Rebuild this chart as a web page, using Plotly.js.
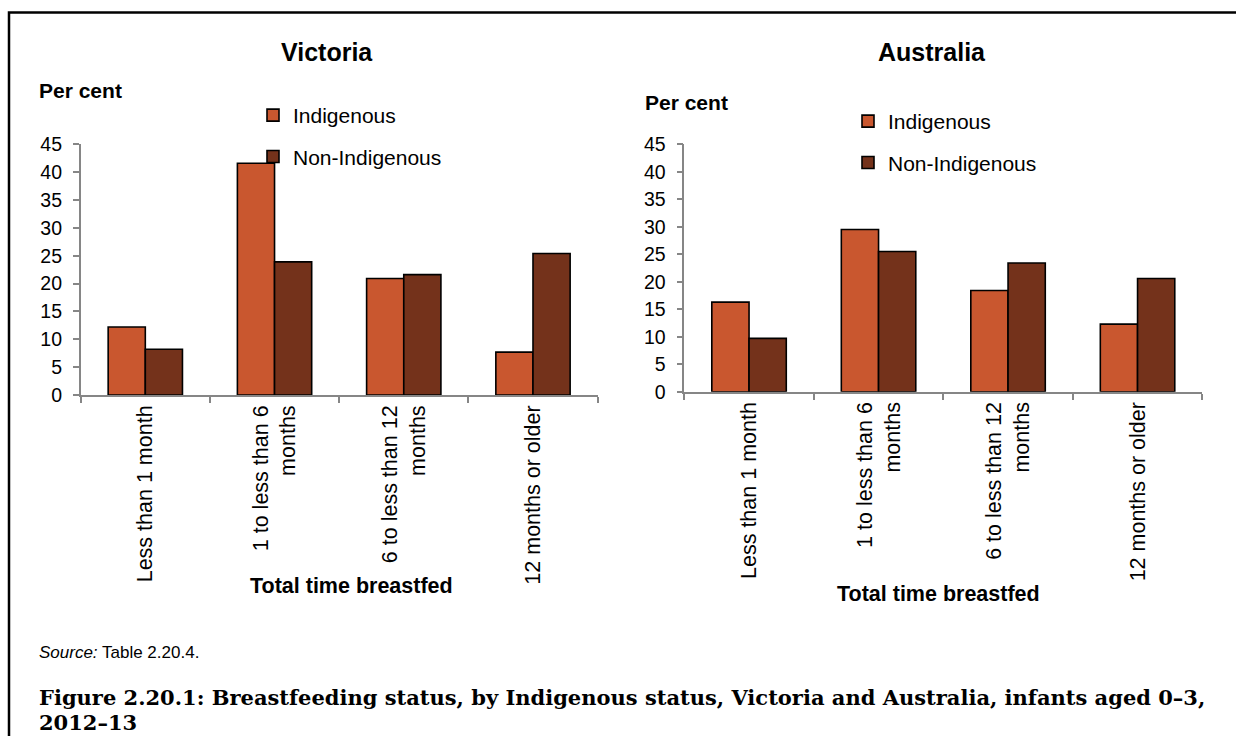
<!DOCTYPE html>
<html>
<head>
<meta charset="utf-8">
<script src="https://cdn.plot.ly/plotly-3.0.1.min.js"></script>
<style>
  html, body { margin: 0; padding: 0; background: #ffffff; }
  #chart { width: 1236px; height: 736px; }
</style>
</head>
<body>
<div id="chart"></div>
<script>
// ---- Data ----
const categories = [
  "Less than 1 month",
  "1 to less than 6<br>months",
  "6 to less than 12<br>months",
  "12 months or older"
];
const seriesNames = ["Indigenous", "Non-Indigenous"];
const victoriaIndigenous = [12.2, 41.6, 20.9, 7.7];
const victoriaNonIndigenous = [8.2, 23.9, 21.6, 25.4];
const australiaIndigenous = [16.3, 29.5, 18.4, 12.3];
const australiaNonIndigenous = [9.7, 25.5, 23.4, 20.6];
const panelTitles = ["Victoria", "Australia"];
const yTitle = "Per cent";
const xTitle = "Total time breastfed";
const sourceText = "<i>Source:</i> Table 2.20.4.";
const captionLines = [
  "Figure 2.20.1: Breastfeeding status, by Indigenous status, Victoria and Australia, infants aged 0–3,",
  "2012–13"
];

// ---- Styling ----
const W = 1236, H = 736;
const px = v => v / W;
const py = v => 1 - v / H;
const colInd = "#C9572F";
const colNon = "#74321B";
const axisGrey = "#868686";
const sans = "Liberation Sans, Arial, sans-serif";
const serif = "DejaVu Serif, Liberation Serif, serif";

function bar(name, y, color, xa, ya, legend) {
  return {
    type: "bar", name: name, x: categories, y: y,
    xaxis: xa, yaxis: ya, legend: legend, legendgroup: legend + name,
    marker: { color: color, line: { color: "#000000", width: 1.6 } },
    hoverinfo: "x+y+name"
  };
}

const traces = [
  bar(seriesNames[0], victoriaIndigenous, colInd, "x", "y", "legend"),
  bar(seriesNames[1], victoriaNonIndigenous, colNon, "x", "y", "legend"),
  bar(seriesNames[0], australiaIndigenous, colInd, "x2", "y2", "legend2"),
  bar(seriesNames[1], australiaNonIndigenous, colNon, "x2", "y2", "legend2")
];

function xAxis(domain, anchor) {
  return {
    domain: domain, anchor: anchor, type: "category",
    showline: true, linecolor: axisGrey, linewidth: 1.6,
    ticks: "outside", tickson: "boundaries", ticklen: 6, tickwidth: 1.6, tickcolor: axisGrey,
    tickangle: -90, tickfont: { family: sans, size: 21.5, color: "#000" },
    showgrid: false, zeroline: false, fixedrange: true
  };
}
function yAxis(domain, anchor) {
  return {
    domain: domain, anchor: anchor, range: [0, 45], dtick: 5, tick0: 0,
    showline: true, linecolor: axisGrey, linewidth: 1.6,
    ticks: "outside", ticklen: 6, tickwidth: 1.6, tickcolor: axisGrey,
    ticklabelstandoff: 7,
    tickfont: { family: sans, size: 19.5, color: "#000" },
    showgrid: false, zeroline: false, fixedrange: true
  };
}

function legendAt(x, y) {
  return {
    x: x, y: y, xanchor: "left", yanchor: "top",
    bgcolor: "rgba(0,0,0,0)", borderwidth: 0,
    font: { family: sans, size: 21, color: "#000" },
    traceorder: "grouped", tracegroupgap: 11, itemclick: false, itemdoubleclick: false
  };
}

function ann(text, x, y, size, opts) {
  return Object.assign({
    text: text, x: px(x), y: py(y), xref: "paper", yref: "paper",
    showarrow: false, xanchor: "center", yanchor: "middle",
    font: { family: sans, size: size, color: "#000" }
  }, opts || {});
}

const layout = {
  width: W, height: H,
  margin: { l: 0, r: 0, t: 0, b: 0 },
  paper_bgcolor: "#ffffff", plot_bgcolor: "#ffffff",
  barmode: "group", bargap: 0.425, bargroupgap: 0,
  showlegend: true,
  xaxis: xAxis([px(80.7), px(597.6)], "y"),
  yaxis: yAxis([py(395), py(144.3)], "x"),
  xaxis2: xAxis([px(684.3), px(1202.3)], "y2"),
  yaxis2: yAxis([py(391.7), py(144.3)], "x2"),
  legend: legendAt(px(253), py(95)),
  legend2: legendAt(px(848), py(101)),
  annotations: [
    ann("<b>" + panelTitles[0] + "</b>", 327, 52, 25),
    ann("<b>" + panelTitles[1] + "</b>", 932, 52, 25),
    ann("<b>" + yTitle + "</b>", 37, 91, 21, { xanchor: "left" }),
    ann("<b>" + yTitle + "</b>", 643, 102, 21, { xanchor: "left" }),
    ann("<b>" + xTitle + "</b>", 351, 586, 21.5),
    ann("<b>" + xTitle + "</b>", 938, 594, 21.5),
    ann(sourceText, 37, 652, 17, { xanchor: "left" }),
    ann("<b>" + captionLines[0] + "</b>", 37, 697, 21, {
      xanchor: "left", font: { family: serif, size: 21, color: "#000" }
    }),
    ann("<b>" + captionLines[1] + "</b>", 37, 722, 21, {
      xanchor: "left", font: { family: serif, size: 21, color: "#000" }
    })
  ],
  shapes: [
    {
      type: "path", xref: "paper", yref: "paper",
      path: "M " + px(9) + " " + py(740) + " L " + px(9) + " " + py(12.5) + " L " + px(1240) + " " + py(12.5),
      line: { color: "#000000", width: 2.5 }
    }
  ]
};

Plotly.newPlot("chart", traces, layout, { displayModeBar: false, staticPlot: false });
</script>
</body>
</html>
